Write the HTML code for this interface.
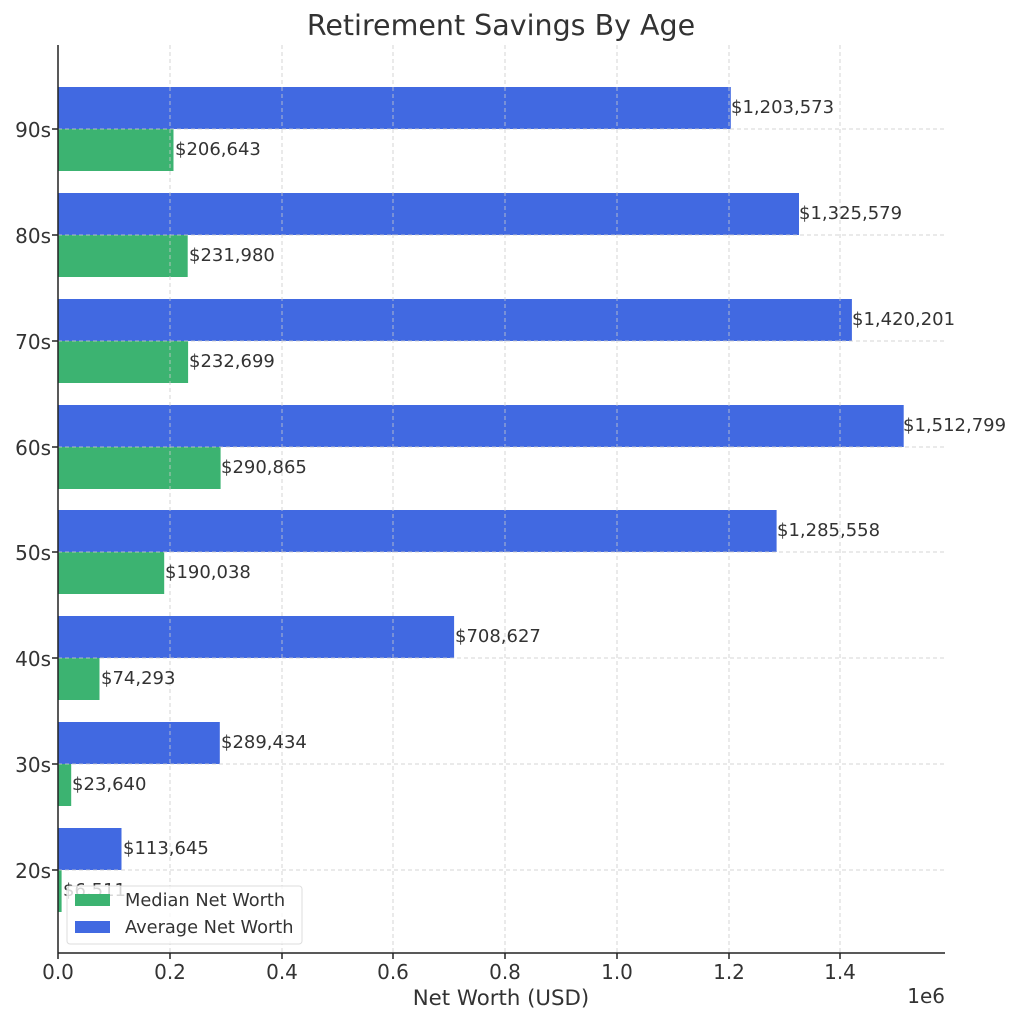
<!DOCTYPE html>
<html><head><meta charset="utf-8"><style>body{margin:0;background:#fff}svg{display:block}text{font-family:"DejaVu Sans","Liberation Sans",sans-serif;fill:#333}</style></head><body>
<svg width="1019" height="1023" viewBox="0 0 1019 1023" xmlns="http://www.w3.org/2000/svg">
<text x="501" y="35" font-size="28.5" text-anchor="middle">Retirement Savings By Age</text>
<g id="bars">
<rect x="58" y="87" width="672.8" height="42" fill="#4169E1"/><rect x="58" y="129" width="115.5" height="42" fill="#3CB371"/>
<rect x="58" y="193" width="741.0" height="42" fill="#4169E1"/><rect x="58" y="235" width="129.7" height="42" fill="#3CB371"/>
<rect x="58" y="299" width="793.9" height="42" fill="#4169E1"/><rect x="58" y="341" width="130.1" height="42" fill="#3CB371"/>
<rect x="58" y="405" width="845.7" height="42" fill="#4169E1"/><rect x="58" y="447" width="162.6" height="42" fill="#3CB371"/>
<rect x="58" y="510" width="718.6" height="42" fill="#4169E1"/><rect x="58" y="552" width="106.2" height="42" fill="#3CB371"/>
<rect x="58" y="616" width="396.1" height="42" fill="#4169E1"/><rect x="58" y="658" width="41.5" height="42" fill="#3CB371"/>
<rect x="58" y="722" width="161.8" height="42" fill="#4169E1"/><rect x="58" y="764" width="13.2" height="42" fill="#3CB371"/>
<rect x="58" y="828" width="63.5" height="42" fill="#4169E1"/><rect x="58" y="870" width="3.6" height="42" fill="#3CB371"/>
</g>
<g stroke="#ccc" stroke-width="1" stroke-dasharray="4,3" opacity="0.8">
<line x1="170" y1="45" x2="170" y2="953"/><line x1="282" y1="45" x2="282" y2="953"/><line x1="393" y1="45" x2="393" y2="953"/><line x1="505" y1="45" x2="505" y2="953"/><line x1="617" y1="45" x2="617" y2="953"/><line x1="729" y1="45" x2="729" y2="953"/><line x1="840" y1="45" x2="840" y2="953"/>
<line x1="58" y1="129" x2="945" y2="129"/><line x1="58" y1="235" x2="945" y2="235"/><line x1="58" y1="341" x2="945" y2="341"/><line x1="58" y1="447" x2="945" y2="447"/><line x1="58" y1="552" x2="945" y2="552"/><line x1="58" y1="658" x2="945" y2="658"/><line x1="58" y1="764" x2="945" y2="764"/><line x1="58" y1="870" x2="945" y2="870"/>
</g>
<g font-size="18">
<text x="731" y="113">$1,203,573</text><text x="175" y="155">$206,643</text>
<text x="799" y="219">$1,325,579</text><text x="189" y="261">$231,980</text>
<text x="852" y="325">$1,420,201</text><text x="189" y="367">$232,699</text>
<text x="903" y="431">$1,512,799</text><text x="221" y="473">$290,865</text>
<text x="777" y="536">$1,285,558</text><text x="165" y="578">$190,038</text>
<text x="455" y="642">$708,627</text><text x="101" y="684">$74,293</text>
<text x="221" y="748">$289,434</text><text x="72" y="790">$23,640</text>
<text x="123" y="854">$113,645</text><text x="63" y="896">$6,511</text>
</g>
<rect x="67" y="886" width="235" height="58" rx="3" fill="#fff" fill-opacity="0.8" stroke="#ddd"/>
<rect x="75" y="894" width="35" height="12" fill="#3CB371"/><text x="125" y="906" font-size="17.8">Median Net Worth</text>
<rect x="75" y="921" width="35" height="12" fill="#4169E1"/><text x="125" y="933" font-size="17.8">Average Net Worth</text>
<g stroke="#222" stroke-width="1.5"><line x1="58" y1="45" x2="58" y2="953"/><line x1="58" y1="953" x2="945" y2="953"/>
<line x1="58" y1="953" x2="58" y2="959"/><line x1="170" y1="953" x2="170" y2="959"/><line x1="282" y1="953" x2="282" y2="959"/><line x1="393" y1="953" x2="393" y2="959"/><line x1="505" y1="953" x2="505" y2="959"/><line x1="617" y1="953" x2="617" y2="959"/><line x1="729" y1="953" x2="729" y2="959"/><line x1="840" y1="953" x2="840" y2="959"/>
<line x1="52" y1="129" x2="58" y2="129"/><line x1="52" y1="235" x2="58" y2="235"/><line x1="52" y1="341" x2="58" y2="341"/><line x1="52" y1="447" x2="58" y2="447"/><line x1="52" y1="552" x2="58" y2="552"/><line x1="52" y1="658" x2="58" y2="658"/><line x1="52" y1="764" x2="58" y2="764"/><line x1="52" y1="870" x2="58" y2="870"/></g>
<g font-size="20" text-anchor="middle" style="fill:#222">
<text x="58" y="979">0.0</text><text x="170" y="979">0.2</text><text x="282" y="979">0.4</text><text x="393" y="979">0.6</text><text x="505" y="979">0.8</text><text x="617" y="979">1.0</text><text x="729" y="979">1.2</text><text x="840" y="979">1.4</text>
</g>
<g font-size="20" text-anchor="end">
<text x="51" y="137">90s</text><text x="51" y="243">80s</text><text x="51" y="349">70s</text><text x="51" y="455">60s</text><text x="51" y="560">50s</text><text x="51" y="666">40s</text><text x="51" y="772">30s</text><text x="51" y="878">20s</text>
</g>
<text x="501" y="1005" font-size="21.3" text-anchor="middle">Net Worth (USD)</text>
<text x="945" y="1003" font-size="20" text-anchor="end">1e6</text>
</svg>
</body></html>
